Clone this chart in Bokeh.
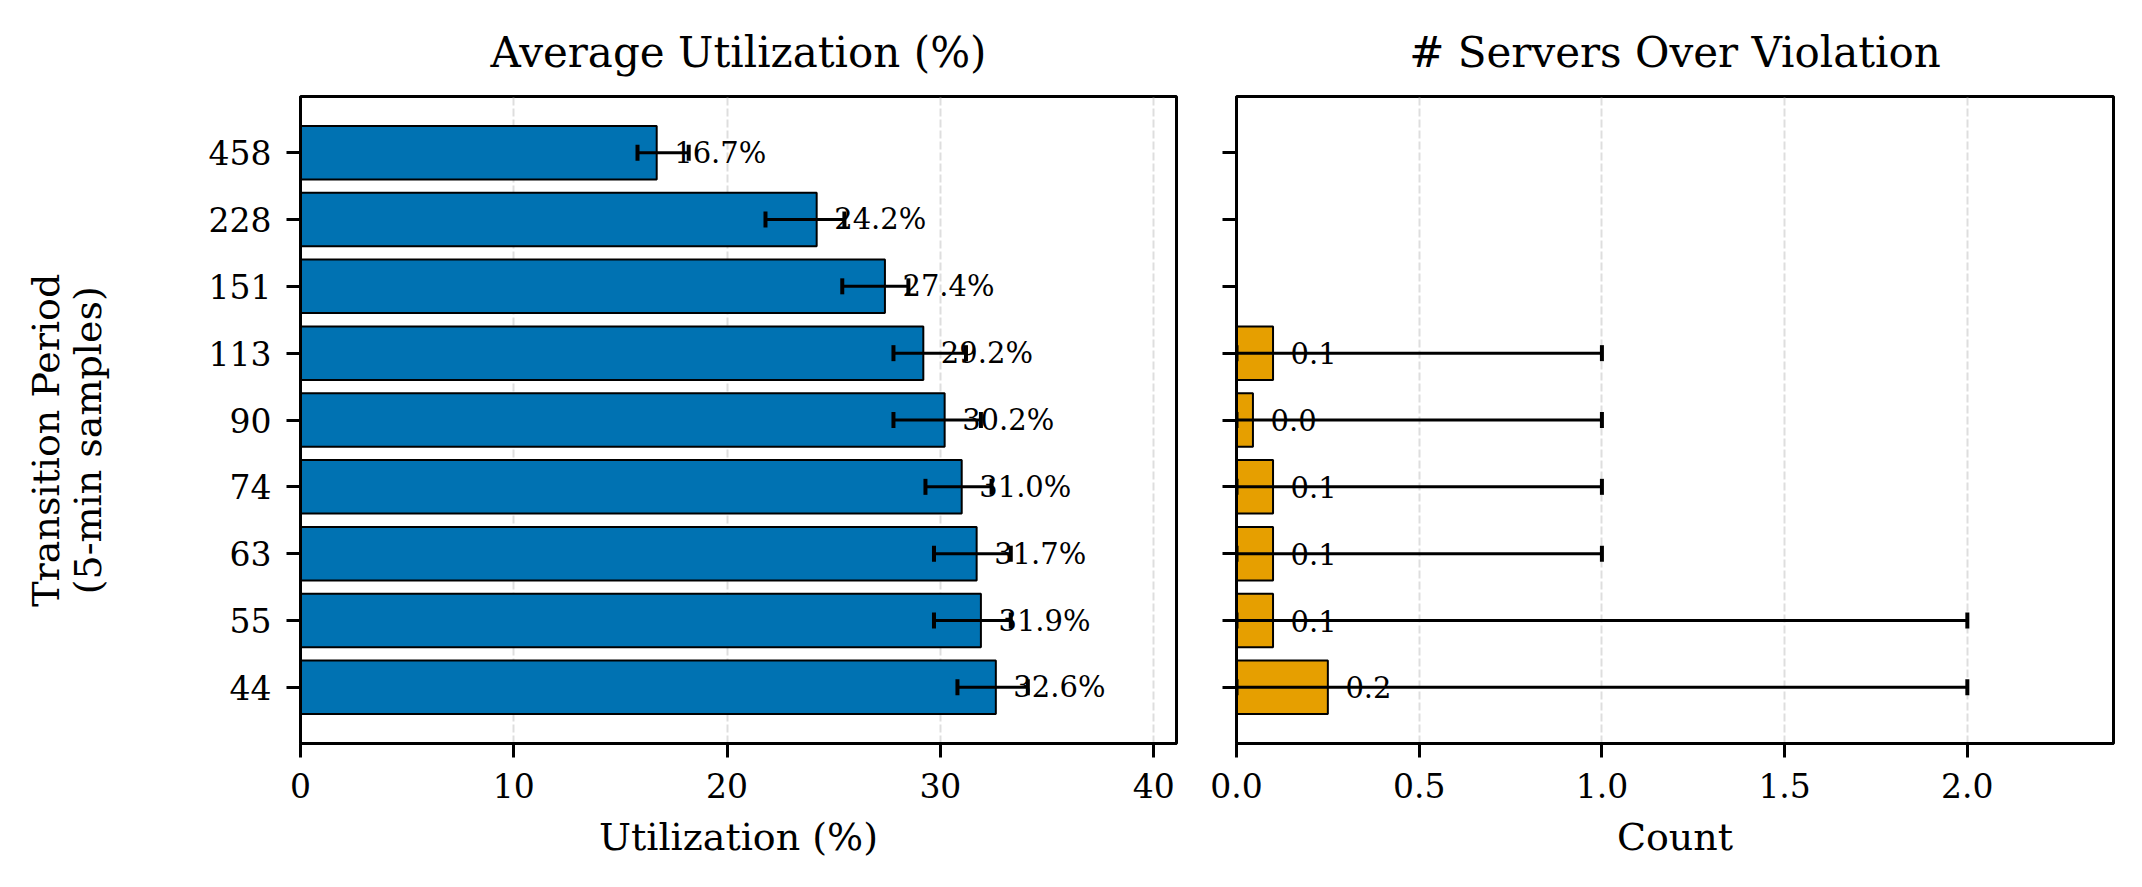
import numpy as np
from bokeh.plotting import figure
from bokeh.models import ColumnDataSource, Range1d, FixedTicker, PrintfTickFormatter, Whisker, TeeHead
from bokeh.layouts import row
from bokeh.core.properties import value
from bokeh.embed import file_html
from bokeh.resources import INLINE

# ---------------- data ----------------
periods = ["44", "55", "63", "74", "90", "113", "151", "228", "458"]
util_mean = [32.6, 31.9, 31.7, 31.0, 30.2, 29.2, 27.4, 24.2, 16.7]
util_low = [30.8, 29.7, 29.7, 29.3, 27.8, 27.8, 25.4, 21.8, 15.8]
util_high = [34.1, 33.3, 33.3, 32.4, 31.9, 31.2, 28.5, 25.5, 18.2]

viol_mean = [0.25, 0.1, 0.1, 0.1, 0.045, 0.1, None, None, None]
viol_low = [0.0, 0.0, 0.0, 0.0, 0.0, 0.0, None, None, None]
viol_high = [2.0, 2.0, 1.0, 1.0, 1.0, 1.0, None, None, None]

util_ticks = [0, 10, 20, 30, 40]
viol_ticks = [0.0, 0.5, 1.0, 1.5, 2.0]
ylabel_lines = ["Transition Period", "(5-min samples)"]

FONT = "DejaVu Serif"
BLUE = "#0072B2"
ORANGE = "#E69F00"

ypos = list(range(len(periods)))
y_lo, y_hi = -0.84, len(periods) - 1 + 0.84


def style(p, xticks, fmt=None):
    p.outline_line_color = "black"
    p.outline_line_width = 3
    p.background_fill_color = "white"
    p.border_fill_color = "white"
    p.ygrid.grid_line_color = None
    p.xgrid.grid_line_color = "#c8c8c8"
    p.xgrid.grid_line_width = 2
    p.xgrid.grid_line_dash = "8 3"
    p.xgrid.grid_line_alpha = 0.6
    p.xaxis.ticker = FixedTicker(ticks=xticks)
    if fmt:
        p.xaxis.formatter = PrintfTickFormatter(format=fmt)
    p.yaxis.ticker = FixedTicker(ticks=ypos)
    for ax in (p.xaxis[0], p.yaxis[0]):
        ax.axis_line_color = "black"
        ax.axis_line_width = 3
        ax.major_tick_line_width = 3
        ax.major_tick_line_color = "black"
        ax.major_tick_out = 14
        ax.major_tick_in = 0
        ax.minor_tick_line_color = None
        ax.major_label_text_font = FONT
        ax.major_label_text_font_size = "33px"
        ax.major_label_text_color = "black"
        ax.major_label_standoff = 15
        ax.axis_label_text_font = FONT
        ax.axis_label_text_font_size = "38px"
        ax.axis_label_text_font_style = "normal"
        ax.axis_label_text_color = "black"
    p.title.text_font = FONT
    p.title.text_font_size = "42px"
    p.title.text_font_style = "normal"
    p.title.text_color = "black"
    p.title.align = "center"
    p.title.standoff = 40


def whisker(src):
    return Whisker(source=src, base="y", lower="lo", upper="hi", dimension="width",
                   line_color="black", line_width=3, level="overlay",
                   lower_head=TeeHead(size=16, line_width=4, line_color="black"),
                   upper_head=TeeHead(size=16, line_width=4, line_color="black"))


H = 879
LW = 130  # width of the strip holding the figure-level y label

# ---------------- figure-level y label strip ----------------
p0 = figure(width=LW, height=H, output_backend="svg", toolbar_location=None,
            x_range=Range1d(0, LW), y_range=Range1d(0, H),
            x_axis_location=None, y_axis_location=None, min_border=0,
            min_border_left=0, min_border_right=0, min_border_top=0, min_border_bottom=0)
p0.outline_line_color = None
p0.grid.grid_line_color = None
p0.background_fill_color = "white"
p0.border_fill_color = "white"
p0.text(x=[45, 87], y=[H - 467, H - 467], text=ylabel_lines, angle=np.pi / 2,
        text_align="center", text_baseline="middle",
        text_font=value(FONT), text_font_size="38px", text_color="black")

# ---------------- left panel ----------------
p1 = figure(width=1206 - LW, height=H, output_backend="svg", toolbar_location=None,
            x_range=Range1d(0, 41.07), y_range=Range1d(y_lo, y_hi),
            min_border_left=300 - LW, min_border_right=30, min_border_top=96, min_border_bottom=136,
            title="Average Utilization (%)")
src1 = ColumnDataSource(dict(
    y=ypos, v=util_mean, lo=util_low, hi=util_high,
    lx=[v + 0.02 * 41.07 for v in util_mean],
    lab=[f"{v:.1f}%" for v in util_mean]))
p1.hbar(y="y", right="v", left=0, height=0.8, source=src1,
        fill_color=BLUE, line_color="black", line_width=2)
p1.add_layout(whisker(src1))
t1 = p1.text(x="lx", y="y", text="lab", source=src1, text_align="left", text_baseline="middle",
             text_font=value(FONT), text_font_size="29px", text_color="black")
t1.level = "overlay"
style(p1, util_ticks)
p1.xaxis.axis_label = "Utilization (%)"
p1.yaxis.major_label_overrides = {i: s for i, s in enumerate(periods)}
p1.xaxis.axis_label_standoff = 14

# ---------------- right panel ----------------
p2 = figure(width=928, height=H, output_backend="svg", toolbar_location=None,
            x_range=Range1d(0, 2.4), y_range=Range1d(y_lo, y_hi),
            min_border_left=30, min_border_right=21, min_border_top=96, min_border_bottom=136,
            title="# Servers Over Violation")
keep = [i for i, v in enumerate(viol_mean) if v is not None]
src2 = ColumnDataSource(dict(
    y=[ypos[i] for i in keep], v=[viol_mean[i] for i in keep],
    lo=[viol_low[i] for i in keep], hi=[viol_high[i] for i in keep],
    lx=[viol_mean[i] + 0.02 * 2.4 for i in keep],
    lab=[f"{viol_mean[i]:.1f}" for i in keep]))
p2.hbar(y="y", right="v", left=0, height=0.8, source=src2,
        fill_color=ORANGE, line_color="black", line_width=2)
p2.add_layout(whisker(src2))
t2 = p2.text(x="lx", y="y", text="lab", source=src2, text_align="left", text_baseline="middle",
             text_font=value(FONT), text_font_size="29px", text_color="black")
t2.level = "overlay"
style(p2, viol_ticks, "%.1f")
p2.xaxis.axis_label = "Count"
p2.xaxis.axis_label_standoff = 14
p2.yaxis.major_label_text_font_size = "0px"
p2.yaxis.major_label_standoff = 0

layout = row(p0, p1, p2)
open("out.html", "w").write(file_html(layout, INLINE))
